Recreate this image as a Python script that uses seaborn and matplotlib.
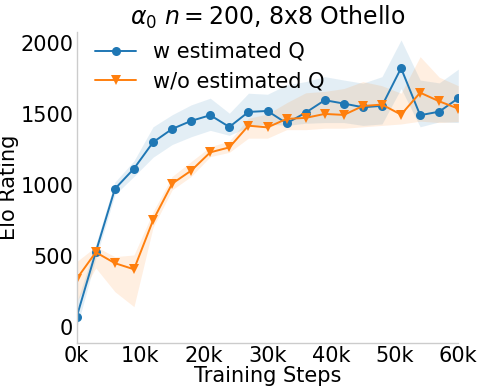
import matplotlib
matplotlib.use("Agg")
import matplotlib.pyplot as plt
import seaborn as sns
import pandas as pd

steps = [0, 3000, 6000, 9000, 12000, 15000, 18000, 21000, 24000, 27000, 30000,
         33000, 36000, 39000, 42000, 45000, 48000, 51000, 54000, 57000, 60000]

w_mean = [70, 527, 972, 1115, 1301, 1395, 1452, 1492, 1409, 1515, 1522,
          1435, 1510, 1598, 1574, 1548, 1558, 1824, 1492, 1517, 1612]
w_low = [-10, 480, 930, 1060, 1195, 1285, 1340, 1385, 1350, 1410, 1430,
         1420, 1435, 1440, 1440, 1420, 1430, 1680, 1410, 1445, 1440]
w_high = [170, 580, 1020, 1170, 1410, 1495, 1565, 1612, 1506, 1647, 1640,
          1706, 1729, 1764, 1740, 1718, 1764, 2023, 1740, 1720, 1817]

wo_mean = [338, 525, 448, 405, 750, 1009, 1101, 1230, 1265, 1418, 1406,
           1466, 1473, 1501, 1494, 1557, 1567, 1496, 1651, 1590, 1538]
wo_low = [176, 414, 247, 141, 700, 965, 1060, 1200, 1230, 1330, 1330,
          1390, 1390, 1400, 1400, 1410, 1420, 1430, 1450, 1440, 1447]
wo_high = [459, 565, 494, 506, 810, 1060, 1165, 1270, 1310, 1471, 1500,
           1580, 1650, 1660, 1680, 1729, 1700, 1647, 1905, 1760, 1700]

labels = ["w estimated Q", "w/o estimated Q"]
xticks = [0, 10000, 20000, 30000, 40000, 50000, 60000]
xticklabels = ["0k", "10k", "20k", "30k", "40k", "50k", "60k"]
yticks = [0, 500, 1000, 1500, 2000]

sns.set_style("white")
plt.rcParams["font.family"] = ["DejaVu Sans"]
plt.rcParams["text.color"] = "black"
plt.rcParams["axes.labelcolor"] = "black"
plt.rcParams["xtick.color"] = "black"
plt.rcParams["ytick.color"] = "black"

df = pd.DataFrame({
    "step": steps * 2,
    "elo": w_mean + wo_mean,
    "method": [labels[0]] * len(steps) + [labels[1]] * len(steps),
})

fig = plt.figure(figsize=(4.78, 3.86), dpi=100)
ax = fig.add_axes([0.1605, 0.1122, 0.7983, 0.806])

blue = "#1f77b4"
orange = "#ff7f0e"

ax.fill_between(steps, w_low, w_high, color=blue, alpha=0.12, linewidth=0)
ax.fill_between(steps, wo_low, wo_high, color=orange, alpha=0.12, linewidth=0)

sns.lineplot(data=df, x="step", y="elo", hue="method", style="method",
             markers=["o", "v"], dashes=False, palette=[blue, orange],
             markersize=6.5, markeredgewidth=0, linewidth=1.4, ax=ax)

ax.set_xlim(0, 60000)
ax.set_ylim(-113, 2082)
ax.set_xticks(xticks)
ax.set_xticklabels(xticklabels)
ax.set_yticks(yticks)
ax.tick_params(labelsize=15, length=0, pad=2.5, colors="black")
ax.set_xlabel("Training Steps", fontsize=15, labelpad=0)
ax.set_ylabel("Elo Rating", fontsize=15, labelpad=0)
ax.yaxis.set_label_coords(-0.150, 0.5)
ax.set_title(r"$\alpha_0$ $n = 200$, 8x8 Othello", fontsize=17, pad=5)

for s in ["top", "right"]:
    ax.spines[s].set_visible(False)
for s in ["left", "bottom"]:
    ax.spines[s].set_color("#cccccc")
    ax.spines[s].set_linewidth(1.0)

leg = ax.legend(loc="upper left", frameon=False, fontsize=15,
                bbox_to_anchor=(0.02, 1.0), handlelength=2.0,
                handletextpad=0.8, borderaxespad=0.1, labelspacing=0.45)

fig.savefig("out.png", dpi=100)
